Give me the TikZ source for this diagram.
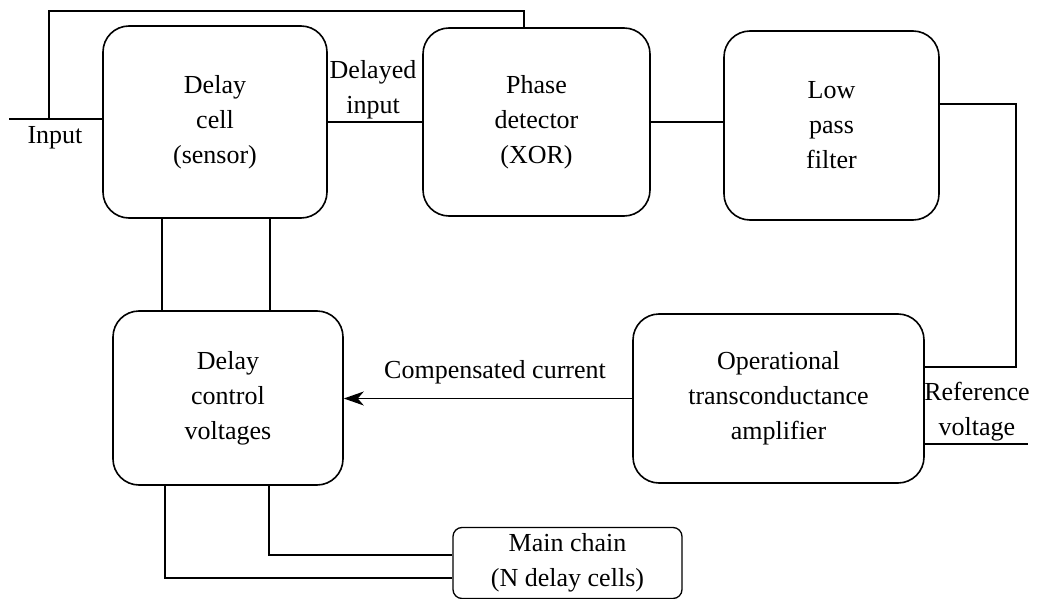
\documentclass[tikz,border=0pt]{standalone}
\usepackage{fontspec}
\setmainfont{Liberation Serif}
\usetikzlibrary{arrows.meta}
\begin{document}
\begin{tikzpicture}[x=1pt,y=-1pt,
  every node/.style={font=\fontsize{26}{35}\selectfont, align=center, inner sep=0pt},
  block/.style={draw, line width=1.6pt, rounded corners=26pt},
  smallblock/.style={draw, line width=1.3pt, rounded corners=9pt},
  wire/.style={line width=1.4pt},
  label/.style={}]
  \useasboundingbox (0,0) rectangle (1041,599);

  % blocks
  \node[block, minimum width=224pt, minimum height=192pt] (dc)  at (215,122)   {Delay\\cell\\(sensor)};
  \node[block, minimum width=227pt, minimum height=188pt] (pd)  at (536.5,122) {Phase\\detector\\(XOR)};
  \node[block, minimum width=215pt, minimum height=189pt] (lpf) at (831.5,125.5) {Low\\pass\\filter};
  \node[block, minimum width=230pt, minimum height=174pt] (dcv) at (228,398)   {Delay\\control\\voltages};
  \node[block, minimum width=291pt, minimum height=169pt] (ota) at (778.5,398.5) {Operational\\transconductance\\amplifier};
  \node[smallblock, minimum width=229pt, minimum height=71pt] (mc) at (567.5,563) {Main chain\\(N delay cells)};

  % helper points for the routed wires
  \coordinate (inL) at (9,119);
  \coordinate (fbA) at (49,119);
  \coordinate (fbT) at (524,11);
  \coordinate (r1)  at (1016,104);
  \coordinate (r2)  at (1016,367);
  \coordinate (refE) at (1028,444);
  \coordinate (v1) at (162,0);
  \coordinate (v2) at (270,0);
  \coordinate (m1) at (269,555);
  \coordinate (m2) at (165,578);

  % input and feedback to the phase detector
  \draw[wire] (inL) -- (dc.west |- inL);
  \draw[wire] (fbA) |- (fbT) -- (fbT |- pd.north);
  \node[label] (inlab) at (55,138) {Input};

  % forward path
  \draw[wire] (dc.east) -- (pd.west);
  \node[label] (dlab) at (373,90) {Delayed\\input};
  \draw[wire] (pd.east) -- (lpf.west |- pd.east);
  \draw[wire] (lpf.east |- r1) -- (r1) -- (r2) -- (ota.east |- r2);
  \draw[wire] (ota.east |- refE) -- (refE);
  \node[label] (reflab) at (977,412) {Reference\\voltage};

  % compensated current back to the control block
  \draw[wire, -{Stealth[length=20pt, width=14pt, inset=6pt]}] (ota.west) -- (dcv.east |- ota.west);
  \node[label] (clab) at (495,372) {Compensated current};

  % control voltages to the sensor and the main chain
  \draw[wire] (dc.south -| v1) -- (dcv.north -| v1);
  \draw[wire] (dc.south -| v2) -- (dcv.north -| v2);
  \draw[wire] (dcv.south -| m1) -- (m1) -- (mc.west |- m1);
  \draw[wire] (dcv.south -| m2) -- (m2) -- (mc.west |- m2);
\end{tikzpicture}
\end{document}
